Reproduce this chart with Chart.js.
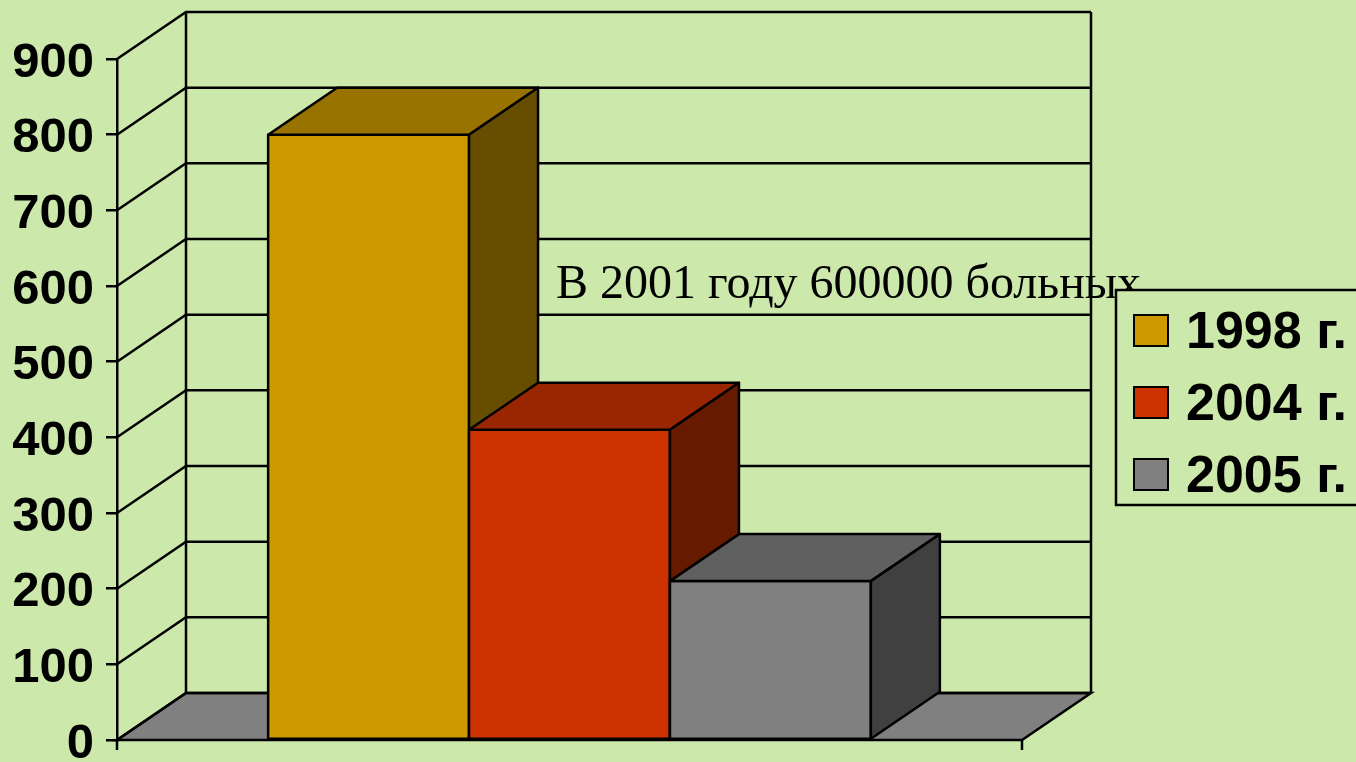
<!DOCTYPE html>
<html lang="ru">
<head>
<meta charset="utf-8">
<title>Больные</title>
<script src="https://cdn.jsdelivr.net/npm/chart.js@4"></script>
<style>
  html, body { margin: 0; padding: 0; background: #cce8aa; overflow: hidden; }
  #wrap { width: 1356px; height: 762px; }
</style>
</head>
<body>
<div id="wrap"><canvas id="chart" width="1356" height="762"></canvas></div>
<script>
// Data
const categories = [''];
const seriesNames = ['1998 г.', '2004 г.', '2005 г.'];
const seriesValues = [[800], [410], [210]];
const yMin = 0, yMax = 900, yStep = 100;
const note = 'В 2001 году 600000 больных';

// front / top / side shades of each series
const frontColors = ['#cc9900', '#cc3300', '#808080'];
const topColors = ['#997300', '#992600', '#606060'];
const sideColors = ['#664d00', '#661a00', '#404040'];

const BG = '#cce8aa';
const DX = 69, DY = -47; // depth of the 3d box
const LW = 2.5;
const sansFont = 'Arial, "Liberation Sans", sans-serif';

function poly(ctx, pts, fill) {
    ctx.beginPath();
    ctx.moveTo(pts[0][0], pts[0][1]);
    for (let i = 1; i < pts.length; i++) ctx.lineTo(pts[i][0], pts[i][1]);
    ctx.closePath();
    if (fill) { ctx.fillStyle = fill; ctx.fill(); }
    ctx.stroke();
}

const box3d = {
    id: 'box3d',
    beforeDraw(chart) {
        const ctx = chart.ctx;
        ctx.save();
        ctx.fillStyle = BG;
        ctx.fillRect(0, 0, chart.width, chart.height);
        ctx.restore();
    },
    beforeDatasetsDraw(chart) {
        const { ctx, chartArea: a, scales: { y } } = chart;
        ctx.save();
        ctx.strokeStyle = '#000';
        ctx.lineWidth = LW;
        const y0 = y.getPixelForValue(yMin);
        // floor
        poly(ctx, [[a.left, y0], [a.right, y0], [a.right + DX, y0 + DY], [a.left + DX, y0 + DY]], '#808080');
        // side wall diagonals + back wall grid
        y.ticks.forEach(t => {
            const py = y.getPixelForValue(t.value);
            ctx.beginPath();
            ctx.moveTo(a.left, py);
            ctx.lineTo(a.left + DX, py + DY);
            ctx.lineTo(a.right + DX, py + DY);
            ctx.stroke();
        });
        const yTop = y.getPixelForValue(yMax) + DY;
        ctx.beginPath();
        ctx.moveTo(a.left + DX, yTop); ctx.lineTo(a.left + DX, y0 + DY);
        ctx.moveTo(a.right + DX, yTop); ctx.lineTo(a.right + DX, y0 + DY);
        // category boundary ticks under the floor
        ctx.moveTo(a.left, y0); ctx.lineTo(a.left, y0 + 10);
        ctx.moveTo(a.right, y0); ctx.lineTo(a.right, y0 + 10);
        ctx.stroke();
        ctx.restore();
    },
    afterDatasetsDraw(chart) {
        const ctx = chart.ctx;
        ctx.save();
        ctx.strokeStyle = '#000';
        ctx.lineWidth = LW;
        ctx.lineJoin = 'round';
        // left to right so each box hides the side of the previous one
        chart.data.datasets.forEach((ds, i) => {
            chart.getDatasetMeta(i).data.forEach(bar => {
                const { x, y, base, width } = bar.getProps(['x', 'y', 'base', 'width'], true);
                const l = x - width / 2, r = x + width / 2;
                poly(ctx, [[l, y], [r, y], [r, base], [l, base]], frontColors[i]);
                poly(ctx, [[l, y], [l + DX, y + DY], [r + DX, y + DY], [r, y]], topColors[i]);
                poly(ctx, [[r, y], [r + DX, y + DY], [r + DX, base + DY], [r, base]], sideColors[i]);
            });
        });
        ctx.restore();
    },
    afterDraw(chart) {
        const ctx = chart.ctx;
        ctx.save();
        // note text
        ctx.fillStyle = '#000';
        ctx.font = '48px "Liberation Serif", "Times New Roman", serif';
        ctx.textBaseline = 'alphabetic';
        ctx.fillText(note, 556, 298);

        // legend
        ctx.strokeStyle = '#000';
        ctx.lineWidth = LW;
        ctx.fillStyle = BG;
        ctx.fillRect(1117, 291, 260, 213);
        ctx.strokeRect(1116, 290, 300, 215);
        ctx.font = 'bold 52px ' + sansFont;
        ctx.textBaseline = 'middle';
        chart.data.datasets.forEach((ds, i) => {
            const cy = 330.5 + i * 72;
            ctx.lineWidth = 2;
            ctx.fillStyle = frontColors[i];
            ctx.fillRect(1134, cy - 15.5, 34, 31);
            ctx.strokeRect(1134, cy - 15.5, 34, 31);
            ctx.fillStyle = '#000';
            ctx.fillText(ds.label, 1186, cy + 3);
        });
        ctx.restore();
    }
};

new Chart(document.getElementById('chart'), {
    type: 'bar',
    data: {
        labels: categories,
        datasets: seriesNames.map((name, i) => ({
            label: name,
            data: seriesValues[i],
            backgroundColor: frontColors[i],
            borderColor: '#000',
            borderWidth: 2
        }))
    },
    options: {
        responsive: false,
        animation: false,
        devicePixelRatio: 1,
        layout: { padding: { left: 0, top: 59, right: 334, bottom: 22 } },
        datasets: { bar: { barPercentage: 1, categoryPercentage: 0.666 } },
        scales: {
            x: { display: false },
            y: {
                min: yMin,
                max: yMax,
                afterFit(scale) {
                    scale.width = 117;
                    scale.paddingTop = 0;
                    scale.paddingBottom = 0;
                },
                ticks: {
                    stepSize: yStep,
                    color: '#000',
                    padding: 12,
                    labelOffset: 4,
                    font: { family: sansFont, size: 49, weight: 'bold' }
                },
                grid: { drawOnChartArea: false, drawTicks: true, tickLength: 11, color: '#000', lineWidth: LW },
                border: { display: true, color: '#000', width: LW }
            }
        },
        plugins: {
            legend: { display: false },
            tooltip: { enabled: false }
        }
    },
    plugins: [box3d]
});
</script>
</body>
</html>
